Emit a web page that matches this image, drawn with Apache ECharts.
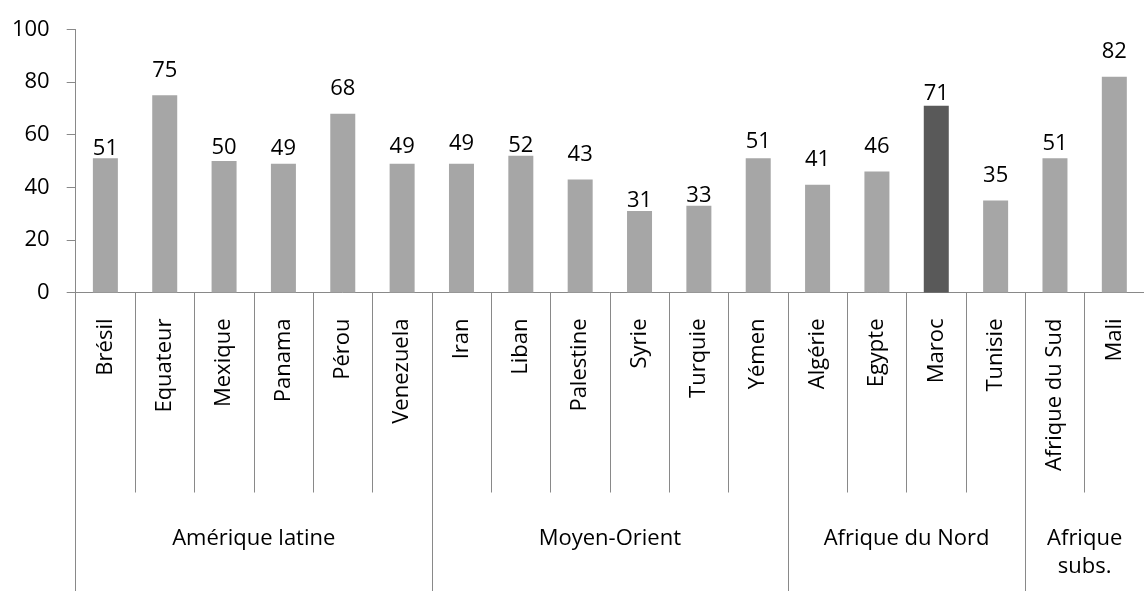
<!DOCTYPE html>
<html>
<head>
<meta charset="utf-8">
<script src="https://cdn.jsdelivr.net/npm/echarts@6/dist/echarts.min.js"></script>
<style>
html,body{margin:0;padding:0;background:#fff;}
#chart{width:1144px;height:591px;}
</style>
</head>
<body>
<div id="chart"></div>
<script>
var categories = ['Brésil','Equateur','Mexique','Panama','Pérou','Venezuela','Iran','Liban','Palestine','Syrie','Turquie','Yémen','Algérie','Egypte','Maroc','Tunisie','Afrique du Sud','Mali'];
var values = [51,75,50,49,68,49,49,52,43,31,33,51,41,46,71,35,51,82];
var groupNames = ['Amérique latine','Moyen-Orient','Afrique du Nord','Afrique\nsubs.'];
var groupSizes = [6,6,4,2];
var highlightCategory = 'Maroc';
var yTicks = [0,20,40,60,80,100];
// style: gap (px) between each value label and its bar, as in the reference
var labelGaps = [3,18,6,8,18,10,13,3,18,3,3,10,18,18,5,18,8,18];

var FONT = 'Open Sans';
var axisColor = '#898989';

// Build a half-slot point axis for groups
var nHalf = categories.length * 2;
var groupAxisData = [];
for (var i = 0; i <= nHalf; i++) groupAxisData.push('');
var boundaries = [0];
var acc = 0;
groupSizes.forEach(function (s, gi) {
  var start = acc * 2;
  acc += s;
  var end = acc * 2;
  boundaries.push(end);
  groupAxisData[(start + end) / 2] = groupNames[gi];
});

var chart = echarts.init(document.getElementById('chart'), null, {renderer: 'canvas'});
chart.setOption({
  animation: false,
  backgroundColor: '#ffffff',
  grid: {left: 75.7, top: 29.5, bottom: 298.5, right: -11.7, containLabel: false},
  xAxis: [
    {
      type: 'category',
      data: categories,
      position: 'bottom',
      offset: 0,
      axisLine: {show: true, lineStyle: {color: axisColor, width: 1}},
      axisTick: {show: true, length: 200, lineStyle: {color: axisColor, width: 1}},
      axisLabel: {rotate: 90, margin: 26, interval: 0, fontFamily: FONT, fontSize: 22, color: '#000'}
    },
    {
      type: 'category',
      data: groupAxisData,
      boundaryGap: false,
      position: 'bottom',
      offset: 0,
      axisLine: {show: false},
      axisTick: {
        show: true, length: 320,
        interval: function (idx) { return boundaries.indexOf(idx) >= 0; },
        lineStyle: {color: axisColor, width: 1}
      },
      axisLabel: {
        interval: function (idx, val) { return val !== ''; },
        margin: 232, fontFamily: FONT, fontSize: 22, color: '#000', lineHeight: 28, align: 'center'
      }
    }
  ],
  yAxis: {
    type: 'value',
    min: 0, max: 100, interval: 20,
    splitLine: {show: false},
    axisLine: {show: true, lineStyle: {color: axisColor, width: 1}},
    axisTick: {show: true, length: 9, lineStyle: {color: axisColor}},
    axisLabel: {margin: 26, fontFamily: FONT, fontSize: 22, color: '#000',
      formatter: function (v) { return yTicks.indexOf(v) >= 0 ? String(v) : ''; }}
  },
  series: [{
    type: 'bar',
    xAxisIndex: 0,
    barWidth: 25,
    data: values.map(function (v, i) {
      return {
        value: v,
        itemStyle: {color: categories[i] === highlightCategory ? '#595959' : '#A6A6A6'},
        label: {distance: labelGaps[i] - 4}
      };
    }),
    label: {show: true, position: 'top', fontFamily: FONT, fontSize: 22, color: '#000'}
  }]
});
</script>
</body>
</html>
